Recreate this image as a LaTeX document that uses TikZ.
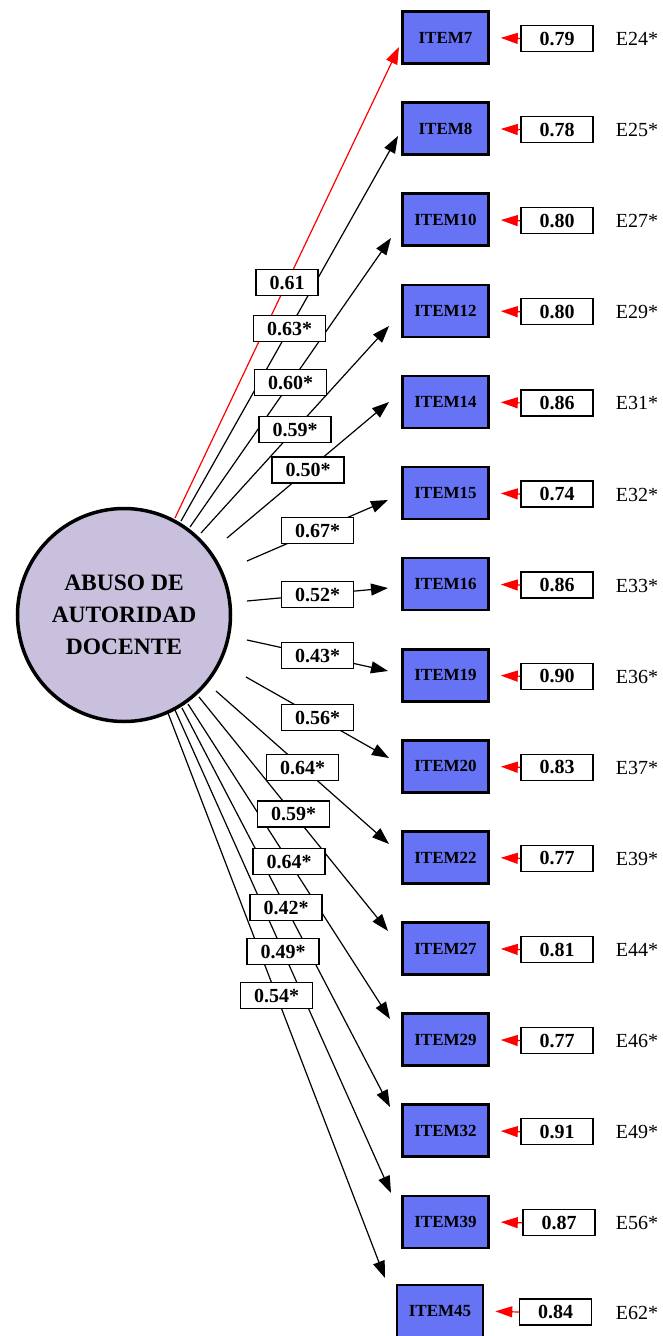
\documentclass[tikz,border=0pt]{standalone}
\usepackage{fontspec}
\setmainfont{Liberation Serif}
\usetikzlibrary{arrows.meta}
\definecolor{itemblue}{RGB}{102,115,245}
\definecolor{lav}{RGB}{201,192,221}
\begin{document}
\begin{tikzpicture}[x=1pt,y=-1pt,
  item/.style={draw=black, line width=2.6pt, fill=itemblue, minimum width=86pt, minimum height=52pt, inner sep=0pt,
    font=\fontsize{17}{17}\selectfont\bfseries},
  wbox/.style={draw=black, line width=1.3pt, fill=white, minimum height=26pt, inner sep=0pt,
    font=\fontsize{20}{20}\selectfont\bfseries},
  ebox/.style={draw=black, line width=1.3pt, fill=white, minimum width=72pt, minimum height=26pt, inner sep=0pt,
    font=\fontsize{20}{20}\selectfont\bfseries},
  elab/.style={inner sep=0pt, font=\fontsize{20}{20}\selectfont},
  conn/.style={line width=1.2pt, -{Triangle[length=17pt,width=12pt]}},
  errarr/.style={draw=red, line width=1.2pt, -{Triangle[length=17pt,width=11pt]}, shorten >=11pt},
  factor/.style={circle, draw=black, line width=3.5pt, fill=lav, minimum size=213pt, inner sep=0pt, align=center,
    font=\fontsize{23.5}{32}\selectfont\bfseries}
]
\useasboundingbox (0,0) rectangle (662,1336);

\node[factor] (F) at (124,615) {ABUSO DE\\AUTORIDAD\\DOCENTE};

\foreach \n/\ix/\y/\ex/\e/\E/\sx/\sy/\tx/\ty/\c in {
 7/445.5/37.5/557/0.79/E24*/175/518/399/47/red,
 8/445.5/128.6/557/0.78/E25*/181/521/398/136/black,
 10/445.5/219.7/557/0.80/E27*/190/527/391/238/black,
 12/445.5/310.8/557/0.80/E29*/201/533/389/326/black,
 14/445.5/401.9/557/0.86/E31*/227/538/389/402/black,
 15/445.5/493/557/0.74/E32*/247/561/388/500/black,
 16/445.5/584.1/557/0.86/E33*/247/601/388/588/black,
 19/445.5/675.2/557/0.90/E36*/247/640/388/671/black,
 20/445.5/766.3/557/0.83/E37*/246/677/389/758/black,
 22/445.5/857.4/557/0.77/E39*/216/691/389/844/black,
 27/445.5/948.5/557/0.81/E44*/199/697/388/931/black,
 29/445.5/1039.6/557/0.77/E46*/188/704/390/1019/black,
 32/445.5/1130.7/557/0.91/E49*/182/708/390/1107/black,
 39/445.5/1221.8/559/0.87/E56*/175/710/391/1193/black,
 45/440/1311/555.5/0.84/E62*/168/713/385/1278/black}
{
  \node[item] (i\n) at (\ix,\y) {ITEM\n\hspace{14pt}};
  \node[ebox] (e\n) at (\ex,\y+1) {\e};
  \node[elab] (E\n) at (637,\y+1.5) {\E};
  \coordinate (s\n) at (\sx,\sy);
  \coordinate (t\n) at (\tx,\ty);
  \draw[conn,\c] (s\n) -- (t\n);
  \draw[errarr] (e\n.west) -- (i\n.east);
}

\foreach \n/\w/\ww in {7/0.61/62, 8/0.63*/72, 10/0.60*/72, 12/0.59*/72, 14/0.50*/72, 15/0.67*/72,
  16/0.52*/72, 19/0.43*/72, 20/0.56*/72, 22/0.64*/72, 27/0.59*/72, 29/0.64*/72, 32/0.42*/72,
  39/0.49*/72, 45/0.54*/72}
{
  \path (s\n) -- node[wbox, minimum width=\ww pt] (w\n) {\w} (t\n);
}
\end{tikzpicture}
\end{document}
